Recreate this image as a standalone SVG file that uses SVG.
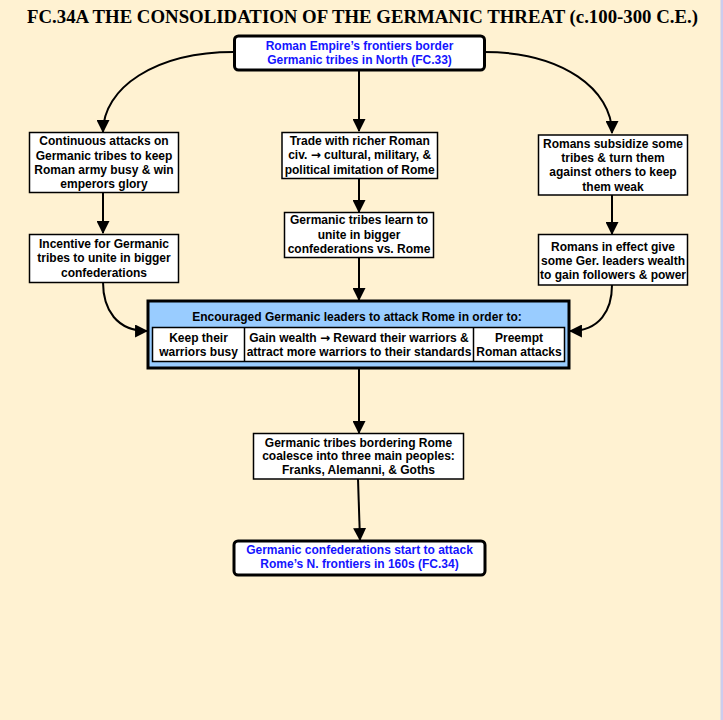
<svg xmlns="http://www.w3.org/2000/svg" width="723" height="720" viewBox="0 0 723 720">
<defs>
<style>
.t{font-family:"Liberation Sans",Arial,sans-serif;font-weight:bold;font-size:12px;text-anchor:middle;fill:#000}
.b{fill:#1414ff}
.ar{font-family:"DejaVu Sans",sans-serif;font-weight:bold;font-size:12px}
.box{fill:#fff;stroke:#000;stroke-width:1.5}
.rbox{fill:#fff;stroke:#000;stroke-width:3}
.ln{fill:none;stroke:#000;stroke-width:2;marker-end:url(#ah)}
</style>
<marker id="ah" markerUnits="userSpaceOnUse" markerWidth="13" markerHeight="13" viewBox="0 0 12 12" refX="11" refY="6" orient="auto">
<path d="M0,0 L12,6 L0,12 z" fill="#000"/>
</marker>
</defs>
<rect x="0" y="0" width="723" height="720" fill="#FFF2D2"/>
<rect x="720.5" y="0" width="2.5" height="720" fill="#CCCCEE"/>
<text x="362.5" y="22.5" font-family="Liberation Serif,'Times New Roman',serif" font-weight="bold" font-size="19.5" text-anchor="middle" textLength="671" lengthAdjust="spacingAndGlyphs">FC.34A THE CONSOLIDATION OF THE GERMANIC THREAT (c.100-300 C.E.)</text>

<g id="connectors">
<path class="ln" d="M234,52 C155,52 103,88 103,132"/>
<path class="ln" d="M484,52 C563,52 612,90 612,133"/>
<path class="ln" d="M359,70 L359,131"/>
<path class="ln" d="M103,193 L103,233"/>
<path class="ln" d="M359,178 L359,212"/>
<path class="ln" d="M612,195 L612,234"/>
<path class="ln" d="M359,258 L359,300"/>
<path class="ln" d="M103,282 C103,310 117,331 147,331"/>
<path class="ln" d="M612,285 C612,310 600,331 570,331"/>
<path class="ln" d="M359,368 L359,433"/>
<path class="ln" d="M358,479 L360,540"/>
</g>

<g id="top">
<rect class="rbox" x="234.5" y="36" width="250" height="34" rx="4"/>
<text class="t b" x="359.5" y="50">Roman Empire’s frontiers border</text>
<text class="t b" x="359.5" y="64">Germanic tribes in North (FC.33)</text>
</g>

<g id="left1">
<rect class="box" x="29.5" y="132.5" width="149" height="60"/>
<text class="t" x="104" y="145">Continuous attacks on</text>
<text class="t" x="104" y="160">Germanic tribes to keep</text>
<text class="t" x="104" y="174">Roman army busy &amp; win</text>
<text class="t" x="104" y="188">emperors glory</text>
</g>

<g id="left2">
<rect class="box" x="29.5" y="234.5" width="149" height="48"/>
<text class="t" x="104" y="248">Incentive for Germanic</text>
<text class="t" x="104" y="262">tribes to unite in bigger</text>
<text class="t" x="104" y="277">confederations</text>
</g>

<g id="mid1">
<rect class="box" x="282" y="132.5" width="155.5" height="46"/>
<text class="t" x="359.7" y="145">Trade with richer Roman</text>
<text class="t" x="359.7" y="159">civ. <tspan class="ar">→</tspan> cultural, military, &amp;</text>
<text class="t" x="359.7" y="174">political imitation of Rome</text>
</g>

<g id="mid2">
<rect class="box" x="284.5" y="212.5" width="149" height="45"/>
<text class="t" x="359" y="224">Germanic tribes learn to</text>
<text class="t" x="359" y="239">unite in bigger</text>
<text class="t" x="359" y="253">confederations vs. Rome</text>
</g>

<g id="right1">
<rect class="box" x="538.5" y="135" width="149" height="60"/>
<text class="t" x="613" y="148">Romans subsidize some</text>
<text class="t" x="613" y="162">tribes &amp; turn them</text>
<text class="t" x="613" y="176">against others to keep</text>
<text class="t" x="613" y="191">them weak</text>
</g>

<g id="right2">
<rect class="box" x="538.5" y="234.5" width="149" height="50.5"/>
<text class="t" x="613" y="251">Romans in effect give</text>
<text class="t" x="613" y="265">some Ger. leaders wealth</text>
<text class="t" x="613" y="279">to gain followers &amp; power</text>
</g>

<g id="encouraged">
<rect x="148" y="301" width="421" height="67" fill="#99CCFF" stroke="#000" stroke-width="3"/>
<text class="t" x="357" y="321" font-size="12.5">Encouraged Germanic leaders to attack Rome in order to:</text>
<rect class="box" x="152.5" y="327.5" width="412" height="34"/>
<line x1="244.5" y1="327.5" x2="244.5" y2="361.5" stroke="#000" stroke-width="1.5"/>
<line x1="473.5" y1="327.5" x2="473.5" y2="361.5" stroke="#000" stroke-width="1.5"/>
<text class="t" x="198.5" y="342">Keep their</text>
<text class="t" x="198.5" y="356">warriors busy</text>
<text class="t" x="359" y="342">Gain wealth <tspan class="ar">→</tspan> Reward their warriors &amp;</text>
<text class="t" x="359" y="356">attract more warriors to their standards</text>
<text class="t" x="519" y="342">Preempt</text>
<text class="t" x="519" y="356">Roman attacks</text>
</g>

<g id="coalesce">
<rect class="box" x="253.5" y="433.5" width="210" height="45.5"/>
<text class="t" x="358.5" y="447">Germanic tribes bordering Rome</text>
<text class="t" x="358.5" y="460">coalesce into three main peoples:</text>
<text class="t" x="358.5" y="474">Franks, Alemanni, &amp; Goths</text>
</g>

<g id="final">
<rect class="rbox" x="234" y="541" width="251" height="34" rx="4"/>
<text class="t b" x="359.5" y="554">Germanic confederations start to attack</text>
<text class="t b" x="359.5" y="568">Rome’s N. frontiers in 160s (FC.34)</text>
</g>
</svg>
